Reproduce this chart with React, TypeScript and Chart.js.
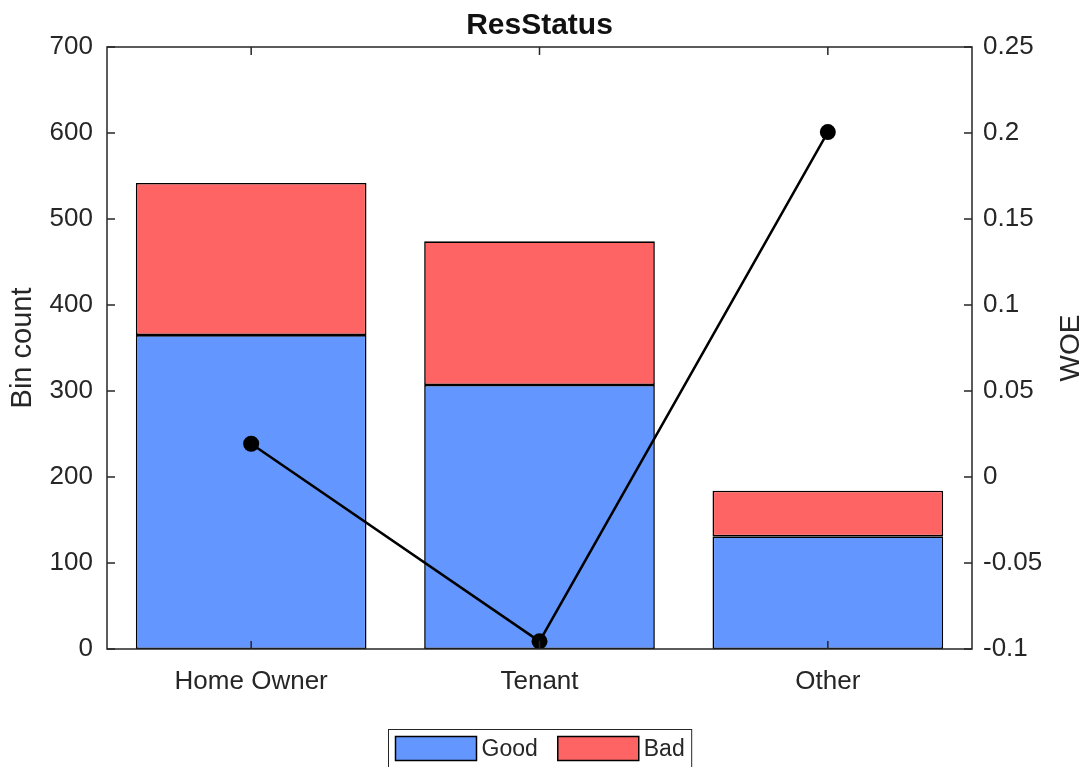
import React, { useEffect, useRef } from "react";
import { Chart, registerables } from "chart.js";

Chart.register(...registerables);

const chartTitle = "ResStatus";
const leftAxisTitle = "Bin count";
const rightAxisTitle = "WOE";
const categories = ["Home Owner", "Tenant", "Other"];
const goodCounts = [365, 307, 131];
const badCounts = [177, 167, 53];
const woeValues = [0.019329, -0.095564, 0.20055];
const seriesLabels = ["Good", "Bad"];
const seriesColors = ["rgb(99,150,255)", "rgb(255,100,100)"];

const W = 1086;
const H = 767;
const FONT = "'Liberation Sans', Arial, Helvetica, sans-serif";
const AXIS = "#262626";

export default function App() {
  const ref = useRef<HTMLCanvasElement>(null);

  useEffect(() => {
    const canvas = ref.current;
    if (!canvas) return;

    const decorations = {
      id: "matlabDecorations",
      afterDraw(chart: any) {
        const { ctx, chartArea: ca, scales } = chart;
        const xs = scales.x;
        const ys = scales.y;
        const y2s = scales.y2;
        ctx.save();
        ctx.strokeStyle = AXIS;
        ctx.lineWidth = 1.5;
        ctx.strokeRect(ca.left, ca.top, ca.right - ca.left, ca.bottom - ca.top);
        const tl = 8;
        ctx.beginPath();
        ys.ticks.forEach((t: any) => {
          const py = ys.getPixelForValue(t.value);
          ctx.moveTo(ca.left, py);
          ctx.lineTo(ca.left + tl, py);
        });
        y2s.ticks.forEach((t: any) => {
          const py = y2s.getPixelForValue(t.value);
          ctx.moveTo(ca.right, py);
          ctx.lineTo(ca.right - tl, py);
        });
        categories.forEach((_, i) => {
          const px = xs.getPixelForValue(i);
          ctx.moveTo(px, ca.bottom);
          ctx.lineTo(px, ca.bottom - tl);
          ctx.moveTo(px, ca.top);
          ctx.lineTo(px, ca.top + tl);
        });
        ctx.stroke();

        ctx.save();
        ctx.fillStyle = AXIS;
        ctx.font = `28px ${FONT}`;
        ctx.textAlign = "center";
        ctx.textBaseline = "middle";
        ctx.translate(ca.right + 99, (ca.top + ca.bottom) / 2);
        ctx.rotate(-Math.PI / 2);
        ctx.fillText(rightAxisTitle, 0, 0);
        ctx.restore();

        const barSets = chart.data.datasets.filter((d: any) => d.type === "bar");
        ctx.font = `23px ${FONT}`;
        const padIn = 7;
        const sw = 81;
        const sh = 24;
        const gapText = 5;
        const gapItem = 20;
        const widths = barSets.map((d: any) => ctx.measureText(d.label).width);
        let total = padIn * 2;
        widths.forEach((w: number, i: number) => {
          total += sw + gapText + w + (i > 0 ? gapItem : 0);
        });
        const boxLeft = Math.round((ca.left + ca.right) / 2 - total / 2) + 0.5;
        const boxTop = 729.5;
        ctx.fillStyle = "#ffffff";
        ctx.fillRect(boxLeft, boxTop, total, 50);
        ctx.strokeStyle = "#262626";
        ctx.lineWidth = 1;
        ctx.strokeRect(boxLeft, boxTop, total, 50);
        let cx = boxLeft + padIn;
        barSets.forEach((d: any, i: number) => {
          if (i > 0) cx += gapItem;
          ctx.fillStyle = d.backgroundColor;
          ctx.fillRect(cx, boxTop + 7, sw, sh);
          ctx.strokeStyle = "#000";
          ctx.lineWidth = 1.5;
          ctx.strokeRect(cx, boxTop + 7, sw, sh);
          cx += sw + gapText;
          ctx.fillStyle = AXIS;
          ctx.textAlign = "left";
          ctx.textBaseline = "middle";
          ctx.fillText(d.label, cx, boxTop + 7 + sh / 2 + 1);
          cx += widths[i];
        });
        ctx.restore();
      },
    };

    const chart = new Chart(canvas, {
      type: "bar",
      data: {
        labels: categories,
        datasets: [
          {
            type: "bar",
            label: seriesLabels[0],
            data: goodCounts,
            yAxisID: "y",
            backgroundColor: seriesColors[0],
            borderColor: "#000",
            borderWidth: 1.6,
            borderSkipped: false,
            barPercentage: 0.8,
            categoryPercentage: 1,
            stack: "bins",
            order: 1,
          } as any,
          {
            type: "bar",
            label: seriesLabels[1],
            data: badCounts,
            yAxisID: "y",
            backgroundColor: seriesColors[1],
            borderColor: "#000",
            borderWidth: 1.6,
            borderSkipped: false,
            barPercentage: 0.8,
            categoryPercentage: 1,
            stack: "bins",
            order: 2,
          } as any,
          {
            type: "line",
            label: rightAxisTitle,
            data: woeValues,
            yAxisID: "y2",
            borderColor: "#000",
            backgroundColor: "#000",
            borderWidth: 2.5,
            pointRadius: 8,
            pointBackgroundColor: "#000",
            pointBorderWidth: 0,
            order: 0,
            clip: false,
          } as any,
        ],
      },
      options: {
        responsive: false,
        animation: false,
        devicePixelRatio: 1,
        layout: { padding: 0 },
        plugins: {
          legend: { display: false },
          tooltip: { enabled: false },
          title: {
            display: true,
            fullSize: false,
            text: chartTitle,
            color: "#111",
            font: { family: FONT, size: 30, weight: "bold" },
            padding: { top: 8, bottom: 3 },
          },
        },
        scales: {
          x: {
            type: "category",
            stacked: true,
            offset: true,
            grid: { display: false, drawTicks: false },
            border: { display: false },
            ticks: { color: AXIS, font: { family: FONT, size: 26 }, padding: 17 },
            afterFit: (s: any) => {
              s.height = 118;
            },
          },
          y: {
            type: "linear",
            position: "left",
            stacked: true,
            min: 0,
            max: 700,
            grid: { display: false, drawTicks: false },
            border: { display: false },
            ticks: { stepSize: 100, color: AXIS, font: { family: FONT, size: 26 }, padding: 14 },
            title: {
              display: true,
              text: leftAxisTitle,
              color: AXIS,
              font: { family: FONT, size: 29 },
              padding: { top: 6, bottom: 0 },
            },
            afterFit: (s: any) => {
              s.width = 107;
            },
          },
          y2: {
            type: "linear",
            position: "right",
            min: -0.1,
            max: 0.25,
            grid: { display: false, drawTicks: false },
            border: { display: false },
            ticks: {
              stepSize: 0.05,
              color: AXIS,
              font: { family: FONT, size: 26 },
              padding: 11,
              callback: (v: any) => String(Math.round(Number(v) * 100) / 100),
            },
            afterFit: (s: any) => {
              s.width = 114;
            },
          },
        },
      } as any,
      plugins: [decorations],
    });

    return () => chart.destroy();
  }, []);

  return (
    <div style={{ position: "fixed", left: 0, top: 0, width: W, height: H, background: "#fff", overflow: "hidden" }}>
      <canvas ref={ref} width={W} height={H} style={{ display: "block", width: W, height: H }} />
    </div>
  );
}
